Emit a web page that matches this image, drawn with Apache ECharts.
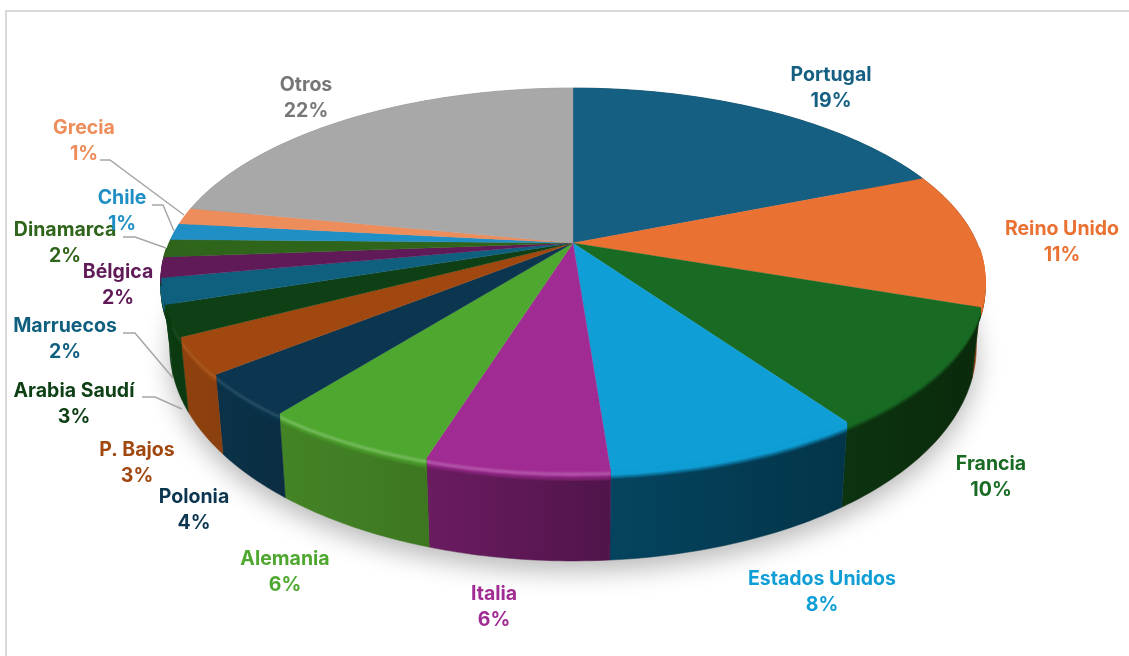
<!DOCTYPE html>
<html><head><meta charset="utf-8">
<style>html,body{margin:0;padding:0;background:#fff}#c{width:1129px;height:656px}</style>
<script src="https://cdn.jsdelivr.net/npm/echarts@6/dist/echarts.min.js"></script>
</head><body><div id="c"></div>
<script>
// DATA
const categories = ['Portugal','Reino Unido','Francia','Estados Unidos','Italia','Alemania','Polonia','P. Bajos','Arabia Saudí','Marruecos','Bélgica','Dinamarca','Chile','Grecia','Otros'];
const shares = [18.9, 11.4, 10.0, 8.5, 6.0, 5.8, 3.6, 3.1, 2.6, 2.2, 1.7, 1.5, 1.4, 1.4, 21.9];
const shareLabels = ['19%','11%','10%','8%','6%','6%','4%','3%','3%','2%','2%','2%','1%','1%','22%'];

// STYLE
const topColors = ['#156082','#E97132','#196B24','#0F9ED5','#A02B93','#4EA72E','#0C3650','#A0480F','#0F4015','#0F5F7F','#601A58','#2F641B','#1F8FC6','#ED8D5B','#A8A8A8'];
const wallLeft  = ['#0a3a50','#a04a18','#0c3410','#05445f','#6b1c61','#438426','#0b3249','#8f420e','#0c3a10','#0c3a10','#0c3a10','#2f641b','#1f8fc6','#ed8d5b','#888888'];
const wallRight = ['#0a3a50','#8a3c12','#0a2a0b','#033549','#50144a','#3d7720','#0a2d42','#8a3f0e','#0c3a10','#0c3a10','#0c3a10','#2f641b','#1f8fc6','#ed8d5b','#888888'];
const glow = [0,0,0,0,0.2,0.22,0.12,0.1,0.06,0.05,0,0,0,0,0];
const textColors = topColors.map((c,i)=> i===14 ? '#767676' : c);
const labelAt = [[831,75],[1062,229],[991,464],[822,579],[494,594],[285,559],[194,497],[137,450],[74,391],[65,326],[118,272],[65,230],[122,198],[84,128],[306,85]];
const leaders = [
  [[100,160],[110,160],[184,215]],
  [[152,205],[163,205],[174,231]],
  [[123,237],[135,237],[166,248]],
  [[123,333],[135,333],[173,378]],
  [[142,397],[155,397],[182,409]]
];
const LABEL_FONT = 'bold 19.5px Inter, sans-serif';

// PERSPECTIVE PROJECTION OF THE DISC
const CX=573, CY=243, A=404, B=184.5, K=0.1906;
function rim(deg){
  const t=deg*Math.PI/180, u=Math.sin(t), v=-Math.cos(t), f=1/(1-K*v);
  return {x:CX+A*u*f, y:CY+B*v*f, v};
}
function low(p){ return [CX+0.98*(p.x-CX), p.y+62+28*p.v]; }
function arc(a,b){ const n=Math.max(2,Math.ceil(Math.abs(b-a))), r=[]; for(let i=0;i<=n;i++) r.push(rim(a+(b-a)*i/n)); return r; }
const total = shares.reduce((s,x)=>s+x,0);
const starts=[]; shares.reduce((s,x,i)=>(starts[i]=s,s+x),0);
function span(i,val){ const a=starts[i]/total*360; return [a,a+val/total*360]; }
function hex(c){ return [1,3,5].map(i=>parseInt(c.substr(i,2),16)); }
function mixHex(c1,c2,t){ const a=hex(c1),b=hex(c2); return '#'+a.map((x,i)=>Math.round(x+(b[i]-x)*t).toString(16).padStart(2,'0')).join(''); }

function renderWall(params,api){
  const i=params.dataIndex, [a,b]=span(i,api.value(0));
  const pts=arc(a,b);
  const top=pts.map(p=>[p.x,p.y]), bottom=pts.map(low).reverse();
  const kids=[{type:'polygon',shape:{points:top.concat(bottom)},
    style:{fill:new echarts.graphic.LinearGradient(0,0,1,0,[{offset:0,color:wallLeft[i]},{offset:1,color:wallRight[i]}]),stroke:wallRight[i],lineWidth:0.5}}];
  const front=pts.filter(p=>p.v>0.02);
  const steps=10;
  if(front.length>1){
    for(let k=steps-1;k>=0;k--){
      const t=k/(steps-1);
      const lit=mixHex(topColors[i],'#ffffff',glow[i]*Math.max(0,1-Math.abs(t-0.3)/0.35));
      const col = t<0.45 ? lit : mixHex(lit,wallLeft[i],(t-0.45)/0.55);
      kids.push({type:'polyline',shape:{points:front.map(p=>[p.x,p.y+k])},style:{stroke:col,lineWidth:2,fill:null}});
    }
  }
  return {type:'group',children:kids};
}
function renderTop(params,api){
  const i=params.dataIndex, [a,b]=span(i,api.value(0));
  const pts=[[CX,CY]].concat(arc(a,b).map(p=>[p.x,p.y]));
  return {type:'polygon',shape:{points:pts},style:{fill:topColors[i],stroke:topColors[i],lineWidth:0.3}};
}
function renderLabel(params,api){
  const i=params.dataIndex, [x,y]=labelAt[i];
  const mk=(t,yy)=>({type:'text',style:{text:t,x:x,y:yy,align:'center',verticalAlign:'middle',font:LABEL_FONT,fill:textColors[i]}});
  return {type:'group',children:[mk(api.value(1),y+0.5),mk(api.value(2),y+26)]};
}
const shadowPts=arc(0,360).map(low);
const rows=categories.map((c,i)=>[shares[i],c,shareLabels[i]]);
const base={type:'custom',coordinateSystem:'none',silent:true,animation:false,clip:false};
const chart=echarts.init(document.getElementById('c'),null,{renderer:'canvas'});
chart.setOption({
  backgroundColor:'#ffffff',
  animation:false,
  tooltip:{show:false},
  graphic:[
    {type:'polyline',z:0,silent:true,shape:{points:[[6,656],[6,11],[1129,11]]},style:{stroke:'#D9D9D9',lineWidth:2,fill:null}},
    {type:'polygon',z:1,silent:true,shape:{points:shadowPts},style:{fill:'#dddddd',shadowBlur:26,shadowColor:'rgba(0,0,0,0.28)',shadowOffsetX:0,shadowOffsetY:10}},
    ...leaders.map(p=>({type:'polyline',z:8,silent:true,shape:{points:p},style:{stroke:'#A6A6A6',lineWidth:1.5,fill:null}}))
  ],
  series:[
    Object.assign({},base,{name:'Paredes',z:3,renderItem:renderWall,data:rows,encode:{value:0}}),
    Object.assign({},base,{name:'Cuota',z:4,renderItem:renderTop,data:rows,encode:{value:0}}),
    Object.assign({},base,{name:'Etiquetas',z:9,renderItem:renderLabel,data:rows,encode:{value:0}})
  ]
});
</script></body></html>
